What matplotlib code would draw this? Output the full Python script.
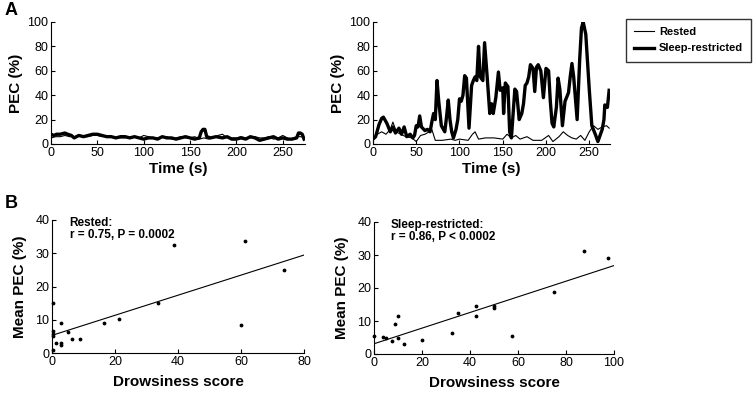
import numpy as np
import matplotlib.pyplot as plt

plt.rcParams['font.family'] = ['Liberation Sans', 'DejaVu Sans']

# Panel A, left: both lines stay low
left_rested_t = [0, 5, 10, 15, 20, 25, 30, 35, 40, 45, 50, 55, 60, 65, 70, 75, 80, 85, 90, 95,
                 100, 105, 110, 115, 120, 125, 130, 135, 140, 145, 150, 155, 160, 165, 170,
                 175, 180, 185, 190, 195, 200, 205, 210, 215, 220, 225, 230, 235, 240, 245,
                 250, 255, 258, 262, 265, 270, 273]
left_rested_v = [5, 6, 6, 7, 6, 6, 7, 6, 6, 7, 7, 6, 7, 6, 5, 5, 5, 6, 6, 5,
                 7, 6, 5, 5, 6, 6, 4, 5, 6, 5, 5, 6, 4, 5, 4,
                 5, 7, 8, 5, 5, 5, 6, 5, 5, 6, 5, 5, 6, 4, 5,
                 7, 5, 4, 5, 6, 6, 5]
left_sleep_t = [0, 3, 6, 10, 15, 18, 22, 25, 30, 35, 40, 45, 50, 55, 60, 65, 70, 75, 80, 85,
                90, 95, 100, 105, 110, 115, 120, 125, 130, 135, 140, 145, 150, 155, 160,
                162, 164, 166, 168, 172, 178, 185, 190, 195, 200, 205, 210, 215, 220, 225,
                230, 235, 240, 245, 250, 255, 260, 265, 267, 269, 271, 273]
left_sleep_v = [8, 7, 8, 8, 9, 8, 7, 5, 7, 6, 7, 8, 8, 7, 6, 6, 5, 6, 6, 5,
                6, 5, 4, 5, 5, 4, 6, 5, 5, 4, 5, 6, 5, 4, 5,
                10, 12, 12, 6, 5, 6, 5, 6, 4, 4, 5, 4, 6, 5, 3,
                4, 5, 6, 4, 5, 4, 4, 5, 9, 9, 8, 4]

# Panel A, right
right_rested_t = [0, 5, 10, 15, 20, 23, 27, 32, 38, 45, 50, 55, 60, 65, 68, 72, 80, 90, 95,
                  100, 110, 115, 118, 122, 130, 140, 150, 155, 160, 165, 170, 178, 185,
                  195, 203, 208, 215, 220, 225, 230, 235, 240, 245, 250, 255, 260, 265,
                  270, 273]
right_rested_v = [5, 8, 10, 8, 12, 18, 10, 8, 6, 5, 2, 7, 8, 10, 12, 3, 3, 4, 3,
                  4, 3, 8, 10, 4, 5, 5, 4, 8, 5, 7, 4, 6, 3,
                  3, 7, 2, 6, 10, 7, 5, 4, 7, 3, 10, 15, 12, 14,
                  15, 13]
right_sleep_t = [0, 3, 7, 10, 12, 16, 20, 23, 26, 30, 33, 36, 39, 43, 46, 48, 50, 52, 54, 56,
                 60, 63, 66, 68, 70, 72, 74, 76, 79, 83, 85, 87, 89, 91, 93, 96, 98, 100,
                 102, 104, 106, 108, 111, 114, 116, 118, 120, 122, 124, 127, 129, 132,
                 135, 137, 139, 142, 145, 147, 150, 151, 153, 156, 158, 160, 162, 164,
                 166, 169, 172, 174, 176, 178, 180, 182, 185, 187, 189, 191, 194, 197,
                 200, 203, 205, 207, 209, 212, 214, 216, 219, 222, 226, 228, 230, 232,
                 236, 239, 241, 243, 246, 250, 253, 257, 260, 263, 265, 267, 268, 271,
                 273]
right_sleep_v = [4, 6, 16, 21, 22, 17, 10, 14, 9, 13, 8, 14, 6, 8, 5, 7, 15, 14, 23, 14,
                 11, 12, 10, 18, 25, 20, 52, 35, 15, 10, 22, 36, 20, 10, 5, 12, 20, 37,
                 35, 40, 56, 54, 13, 48, 52, 55, 52, 80, 55, 52, 83, 55,
                 25, 33, 25, 38, 59, 44, 46, 25, 50, 47, 10, 5, 25, 45,
                 43, 20, 25, 33, 48, 50, 55, 65, 62, 43, 63, 65, 60, 38,
                 62, 60, 35, 17, 14, 30, 54, 45, 15, 35, 42, 55, 66, 55,
                 20, 70, 95, 100, 90, 45, 15, 8, 2, 8, 12, 20, 32, 30,
                 44]

# Panel B, rested
rested_drowsy = [0.3, 0.3, 0.3, 0.3, 0.3, 1.4, 2.8, 2.8, 2.8, 5.0, 6.5, 8.9, 16.5, 21.4,
                 33.8, 38.7, 60.0, 61.3, 73.6]
rested_pec = [15.0, 6.5, 5.8, 5.0, 1.0, 3.0, 9.0, 3.0, 2.3, 6.2, 4.3, 4.1, 9.0, 10.2,
              15.0, 32.5, 8.5, 33.8, 25.0]
rested_fit = [0.302, 5.3]  # slope, intercept

# Panel B, sleep-restricted
sleep_drowsy = [0.0, 3.8, 4.9, 7.5, 8.6, 10.0, 10.0, 12.5, 20.1, 32.6, 34.9, 42.5, 42.5,
                50.0, 50.0, 57.5, 75.1, 87.4, 97.4]
sleep_pec = [5.5, 5.3, 4.9, 3.8, 9.1, 11.6, 4.8, 3.1, 4.3, 6.3, 12.4, 14.6, 11.4,
             14.4, 13.9, 5.5, 18.8, 31.2, 29.2]
sleep_fit = [0.237, 3.1]

W, H = 754, 394
fig = plt.figure(figsize=(W / 100, H / 100), dpi=100)


def add_ax(x0, y0, x1, y1):
    return fig.add_axes([x0 / W, 1 - y1 / H, (x1 - x0) / W, (y1 - y0) / H])


def style(ax):
    ax.spines['top'].set_visible(False)
    ax.spines['right'].set_visible(False)
    ax.tick_params(direction='in', length=3, labelsize=9, width=0.8, pad=2)


ax1 = add_ax(51, 22, 305, 144)
ax2 = add_ax(373, 22, 610, 144)
ax3 = add_ax(52, 220, 304, 353)
ax4 = add_ax(374, 222, 614, 354)

for ax, rt, rv, st, sv in [(ax1, left_rested_t, left_rested_v, left_sleep_t, left_sleep_v),
                           (ax2, right_rested_t, right_rested_v, right_sleep_t, right_sleep_v)]:
    ax.plot(rt, rv, color='black', lw=0.8, label='Rested')
    ax.plot(st, sv, color='black', lw=2.4, label='Sleep-restricted')
    ax.set_xlim(0, 274)
    ax.set_ylim(0, 100)
    ax.set_xticks([0, 50, 100, 150, 200, 250])
    ax.set_yticks([0, 20, 40, 60, 80, 100])
    ax.set_xlabel('Time (s)', fontweight='bold', fontsize=11, labelpad=2)
    ax.set_ylabel('PEC (%)', fontweight='bold', fontsize=11, labelpad=3)
    style(ax)

for ax, dx, dy, fit, xmax, txt in [
        (ax3, rested_drowsy, rested_pec, rested_fit, 80, 'Rested:\nr = 0.75, P = 0.0002'),
        (ax4, sleep_drowsy, sleep_pec, sleep_fit, 100, 'Sleep-restricted:\nr = 0.86, P < 0.0002')]:
    ax.scatter(dx, dy, s=3, color='black', zorder=3, clip_on=False)
    xs = np.array([0, xmax])
    ax.plot(xs, fit[0] * xs + fit[1], color='black', lw=0.8)
    ax.set_xlim(0, xmax)
    ax.set_ylim(0, 40)
    ax.set_xticks(np.arange(0, xmax + 1, 20))
    ax.set_yticks([0, 10, 20, 30, 40])
    ax.set_xlabel('Drowsiness score', fontweight='bold', fontsize=11, labelpad=5)
    ax.set_ylabel('Mean PEC (%)', fontweight='bold', fontsize=11, labelpad=6)
    ax.text(0.07, 1.02, txt, transform=ax.transAxes, fontsize=8.5, fontweight='bold',
            va='top', ha='left', linespacing=1.0)
    style(ax)

handles, labels = ax2.get_legend_handles_labels()
fig.legend(handles, labels, loc='upper left', bbox_to_anchor=(626 / W, 1 - 19 / H),
           frameon=True, fancybox=False, edgecolor='black',
           prop={'weight': 'bold', 'size': 8}, handlelength=1.8, borderpad=0.75,
           labelspacing=0.55, handletextpad=0.4, borderaxespad=0)

fig.text(5 / W, 1 - 2 / H, 'A', fontsize=13, fontweight='bold', va='top', ha='left')
fig.text(5 / W, 1 - 195 / H, 'B', fontsize=13, fontweight='bold', va='top', ha='left')

fig.savefig('out.png', dpi=100)
